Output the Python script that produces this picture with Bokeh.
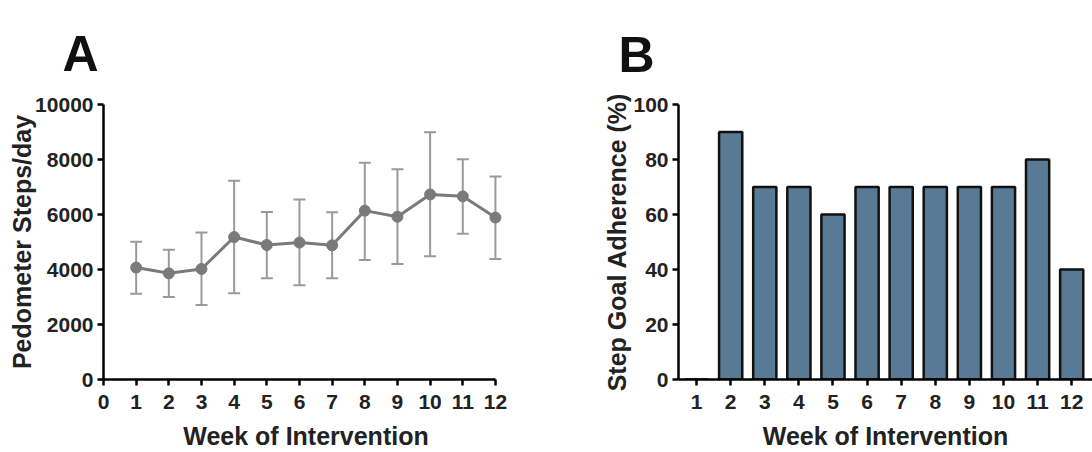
from bokeh.plotting import figure
from bokeh.layouts import row
from bokeh.models import Range1d, FixedTicker, Title, ColumnDataSource, Whisker
from bokeh.embed import file_html
from bokeh.resources import INLINE

weeks = [1, 2, 3, 4, 5, 6, 7, 8, 9, 10, 11, 12]
steps_mean = [4070, 3860, 4020, 5180, 4890, 4980, 4880, 6140, 5920, 6730, 6660, 5890]
steps_upper = [5010, 4720, 5350, 7230, 6090, 6550, 6080, 7880, 7650, 8990, 8010, 7380]
steps_lower = [3120, 3000, 2710, 3140, 3680, 3430, 3680, 4350, 4200, 4480, 5300, 4380]
adherence = [0, 90, 70, 70, 60, 70, 70, 70, 70, 70, 80, 40]

FONT = "Liberation Sans"

def style(p, ylabel_standoff):
    p.outline_line_color = None
    p.grid.grid_line_color = None
    for ax in (p.xaxis[0], p.yaxis[0]):
        ax.axis_line_width = 2.5
        ax.axis_line_color = "black"
        ax.major_tick_line_width = 2.5
        ax.major_tick_line_color = "black"
        ax.major_tick_out = 6
        ax.major_tick_in = 0
        ax.minor_tick_line_color = None
        ax.major_label_text_font = FONT
        ax.major_label_text_font_style = "bold"
        ax.major_label_text_font_size = "21px"
        ax.major_label_text_color = "#222222"
        ax.axis_label_text_font = FONT
        ax.axis_label_text_font_style = "bold"
        ax.axis_label_text_color = "#222222"
        ax.axis_label_text_font_size = "25px"
    p.xaxis.major_label_standoff = 9
    p.yaxis.major_label_standoff = 4
    p.xaxis.axis_label_standoff = 10
    p.yaxis.axis_label_standoff = ylabel_standoff

def panel_label(p, text, offset, standoff):
    p.add_layout(Title(text=text, text_font=FONT, text_font_style="bold", text_font_size="50px",
                       text_color="#111111", align="left", offset=offset,
                       vertical_align="top", standoff=standoff), "above")

# Panel A
pa = figure(width=560, height=452, output_backend="svg", toolbar_location=None,
            x_range=Range1d(0, 12.4), y_range=Range1d(0, 10000),
            min_border_left=103, min_border_right=52, min_border_top=104, min_border_bottom=73)
src = ColumnDataSource(dict(x=weeks, y=steps_mean, up=steps_upper, lo=steps_lower))
wh = Whisker(source=src, base="x", upper="up", lower="lo", line_color="#9a9a9a", line_width=2)
for h in (wh.upper_head, wh.lower_head):
    h.size = 12
    h.line_color = "#9a9a9a"
    h.line_width = 2
pa.add_layout(wh)
pa.line("x", "y", source=src, line_color="#7a7a7a", line_width=3)
pa.scatter("x", "y", source=src, size=11, fill_color="#7a7a7a", line_color="#7a7a7a")
pa.xaxis.axis_label = "Week of Intervention"
pa.yaxis.axis_label = "Pedometer Steps/day"
pa.xaxis.ticker = FixedTicker(ticks=[0] + weeks)
pa.xaxis.bounds = (0, 12)
pa.yaxis.ticker = FixedTicker(ticks=[0, 2000, 4000, 6000, 8000, 10000])
style(pa, -4)
panel_label(pa, "A", -41, 42)

# Panel B
pb = figure(width=532, height=452, output_backend="svg", toolbar_location=None,
            x_range=Range1d(0.47, 12.61), y_range=Range1d(0, 100),
            min_border_left=118, min_border_right=0, min_border_top=102, min_border_bottom=73)
pb.vbar(x=weeks, top=adherence, width=0.68, fill_color="#587a94",
        line_color="#111111", line_width=2.5)
pb.xaxis.axis_label = "Week of Intervention"
pb.yaxis.axis_label = "Step Goal Adherence (%)"
pb.xaxis.ticker = FixedTicker(ticks=weeks)
pb.yaxis.ticker = FixedTicker(ticks=[0, 20, 40, 60, 80, 100])
style(pb, -1)
panel_label(pb, "B", -60, 40)

layout = row(pa, pb)
open("out.html", "w").write(file_html(layout, INLINE))
